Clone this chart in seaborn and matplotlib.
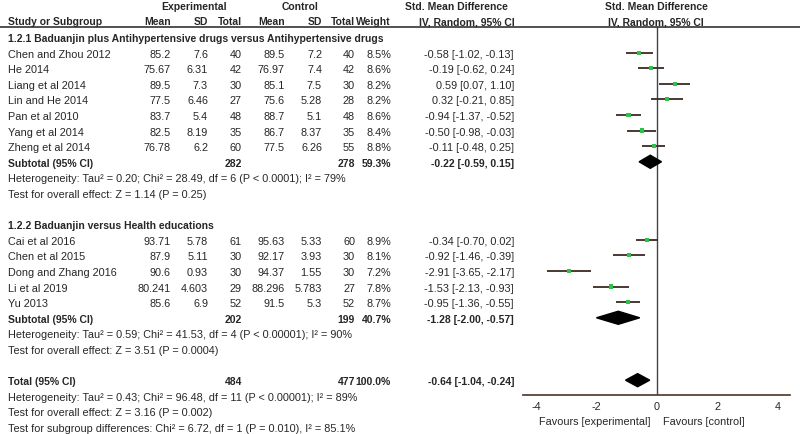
import numpy as np
import matplotlib
matplotlib.use("Agg")
import matplotlib.pyplot as plt
import matplotlib.transforms as mtransforms
from matplotlib.lines import Line2D
from matplotlib.patches import Polygon
import seaborn as sns

# --- data ---------------------------------------------------------------
studies_1 = ["Chen and Zhou 2012", "He 2014", "Liang et al 2014", "Lin and He 2014",
             "Pan et al 2010", "Yang et al 2014", "Zheng et al 2014"]
exp_mean_1 = ["85.2", "75.67", "89.5", "77.5", "83.7", "82.5", "76.78"]
exp_sd_1 = ["7.6", "6.31", "7.3", "6.46", "5.4", "8.19", "6.2"]
exp_n_1 = [40, 42, 30, 27, 48, 35, 60]
ctl_mean_1 = ["89.5", "76.97", "85.1", "75.6", "88.7", "86.7", "77.5"]
ctl_sd_1 = ["7.2", "7.4", "7.5", "5.28", "5.1", "8.37", "6.26"]
ctl_n_1 = [40, 42, 30, 28, 48, 35, 55]
weight_1 = ["8.5%", "8.6%", "8.2%", "8.2%", "8.6%", "8.4%", "8.8%"]
smd_1 = [-0.58, -0.19, 0.59, 0.32, -0.94, -0.50, -0.11]
lo_1 = [-1.02, -0.62, 0.07, -0.21, -1.37, -0.98, -0.48]
hi_1 = [-0.13, 0.24, 1.10, 0.85, -0.52, -0.03, 0.25]

studies_2 = ["Cai et al 2016", "Chen et al 2015", "Dong and Zhang 2016", "Li et al 2019", "Yu 2013"]
exp_mean_2 = ["93.71", "87.9", "90.6", "80.241", "85.6"]
exp_sd_2 = ["5.78", "5.11", "0.93", "4.603", "6.9"]
exp_n_2 = [61, 30, 30, 29, 52]
ctl_mean_2 = ["95.63", "92.17", "94.37", "88.296", "91.5"]
ctl_sd_2 = ["5.33", "3.93", "1.55", "5.783", "5.3"]
ctl_n_2 = [60, 30, 30, 27, 52]
weight_2 = ["8.9%", "8.1%", "7.2%", "7.8%", "8.7%"]
smd_2 = [-0.34, -0.92, -2.91, -1.53, -0.95]
lo_2 = [-0.70, -1.46, -3.65, -2.13, -1.36]
hi_2 = [0.02, -0.39, -2.17, -0.93, -0.55]

# subtotal / total: label, exp total, ctl total, weight, smd, lo, hi
pooled = [
    ("Subtotal (95% CI)", 282, 278, "59.3%", -0.22, -0.59, 0.15),
    ("Subtotal (95% CI)", 202, 199, "40.7%", -1.28, -2.00, -0.57),
    ("Total (95% CI)", 484, 477, "100.0%", -0.64, -1.04, -0.24),
]
group_titles = ["1.2.1 Baduanjin plus Antihypertensive drugs versus Antihypertensive drugs",
                "1.2.2 Baduanjin versus Health educations"]
notes_1 = ["Heterogeneity: Tau\u00b2 = 0.20; Chi\u00b2 = 28.49, df = 6 (P < 0.0001); I\u00b2 = 79%",
           "Test for overall effect: Z = 1.14 (P = 0.25)"]
notes_2 = ["Heterogeneity: Tau\u00b2 = 0.59; Chi\u00b2 = 41.53, df = 4 (P < 0.00001); I\u00b2 = 90%",
           "Test for overall effect: Z = 3.51 (P = 0.0004)"]
notes_tot = ["Heterogeneity: Tau\u00b2 = 0.43; Chi\u00b2 = 96.48, df = 11 (P < 0.00001); I\u00b2 = 89%",
             "Test for overall effect: Z = 3.16 (P = 0.002)",
             "Test for subgroup differences: Chi\u00b2 = 6.72, df = 1 (P = 0.010), I\u00b2 = 85.1%"]
xticks = [-4, -2, 0, 2, 4]

# --- style --------------------------------------------------------------
sns.set_style("white")
plt.rcParams['font.family'] = ['Liberation Sans', 'DejaVu Sans']
plt.rcParams['axes.unicode_minus'] = False
FS = 7.8
FSB = 7.5
TXT = "#262626"

fig = plt.figure(figsize=(8, 4.35), dpi=100)
ax = fig.add_axes([523 / 800, 39 / 435, 267 / 800, 368 / 435])
ax.set_xlim(-4.43, 4.40)
ax.set_ylim(22.95, -0.64)

rows_1 = list(range(1, 8))
rows_2 = list(range(13, 18))
pooled_rows = [8, 18, 22]

# CI lines + study markers
for rows, smd, lo, hi in [(rows_1, smd_1, lo_1, hi_1), (rows_2, smd_2, lo_2, hi_2)]:
    ax.hlines(rows, lo, hi, color="#3b2a22", lw=1.3, zorder=2)
    sns.scatterplot(x=smd, y=rows, marker="s", s=9, color="#2fc24a",
                    edgecolor="none", ax=ax, zorder=3)

# diamonds
for r, p in zip(pooled_rows, pooled):
    est, lo, hi = p[4], p[5], p[6]
    ax.add_patch(Polygon([[lo, r], [est, r - 0.42], [hi, r], [est, r + 0.42]],
                         closed=True, color="black", zorder=3))

ax.axvline(0, color="#3e4550", lw=1.0, zorder=1)
for s in ["top", "left", "right"]:
    ax.spines[s].set_visible(False)
ax.spines["bottom"].set_color("#4a3328")
ax.spines["bottom"].set_linewidth(1.2)
ax.set_yticks([])
ax.set_xticks(xticks)
ax.tick_params(axis="x", direction="inout", length=9, width=1.2, color="#4a3328",
               labelsize=FS, labelcolor=TXT, pad=0)
ax.text(-0.2, 24.6, "Favours [experimental]", ha="right", va="center", fontsize=FS, color=TXT)
ax.text(0.2, 24.6, "Favours [control]", ha="left", va="center", fontsize=FS, color=TXT)

# --- table text ---------------------------------------------------------
tr = mtransforms.blended_transform_factory(fig.transFigure, ax.transData)


def put(x, row, s, ha="left", bold=False):
    fig.text(x / 800, row, s, transform=tr, ha=ha, va="center_baseline",
             fontsize=FSB if bold else FS,
             color=TXT, fontweight="bold" if bold else "normal")


col_x = [171, 208, 242, 285, 322, 355, 391, 514]

# headers
put(194, -2.05, "Experimental", ha="center", bold=True)
put(300, -2.05, "Control", ha="center", bold=True)
put(456, -2.05, "Std. Mean Difference", ha="center", bold=True)
put(656, -2.05, "Std. Mean Difference", ha="center", bold=True)
put(8, -1.08, "Study or Subgroup", bold=True)
for x, h in zip(col_x[:7], ["Mean", "SD", "Total", "Mean", "SD", "Total", "Weight"]):
    put(x, -1.08, h, ha="right", bold=True)
put(467, -1.08, "IV, Random, 95% CI", ha="center", bold=True)
put(656, -1.08, "IV, Random, 95% CI", ha="center", bold=True)
fig.add_artist(Line2D([0, 1], [-0.64, -0.64], transform=tr, color="#333333", lw=1.2))

groups = [
    (0, group_titles[0], studies_1, exp_mean_1, exp_sd_1, exp_n_1, ctl_mean_1, ctl_sd_1,
     ctl_n_1, weight_1, smd_1, lo_1, hi_1, rows_1, notes_1),
    (12, group_titles[1], studies_2, exp_mean_2, exp_sd_2, exp_n_2, ctl_mean_2, ctl_sd_2,
     ctl_n_2, weight_2, smd_2, lo_2, hi_2, rows_2, notes_2),
]
for gi, g in enumerate(groups):
    (hrow, title, names, em, esd, en, cm, csd, cn, w, smd, lo, hi, rows, notes) = g
    put(8, hrow, title, bold=True)
    for i, r in enumerate(rows):
        put(8, r, names[i])
        vals = [em[i], esd[i], str(en[i]), cm[i], csd[i], str(cn[i]), w[i],
                f"{smd[i]:.2f} [{lo[i]:.2f}, {hi[i]:.2f}]"]
        for x, v in zip(col_x, vals):
            put(x, r, v, ha="right")
    p = pooled[gi]
    pr = pooled_rows[gi]
    put(8, pr, p[0], bold=True)
    put(col_x[2], pr, str(p[1]), ha="right", bold=True)
    put(col_x[5], pr, str(p[2]), ha="right", bold=True)
    put(col_x[6], pr, p[3], ha="right", bold=True)
    put(col_x[7], pr, f"{p[4]:.2f} [{p[5]:.2f}, {p[6]:.2f}]", ha="right", bold=True)
    for k, n in enumerate(notes):
        put(8, pr + 1 + k, n)

p = pooled[2]
put(8, 22, p[0], bold=True)
put(col_x[2], 22, str(p[1]), ha="right", bold=True)
put(col_x[5], 22, str(p[2]), ha="right", bold=True)
put(col_x[6], 22, p[3], ha="right", bold=True)
put(col_x[7], 22, f"{p[4]:.2f} [{p[5]:.2f}, {p[6]:.2f}]", ha="right", bold=True)
for k, n in enumerate(notes_tot):
    put(8, 23 + k, n)

fig.savefig("out.png", dpi=100, facecolor="white")
